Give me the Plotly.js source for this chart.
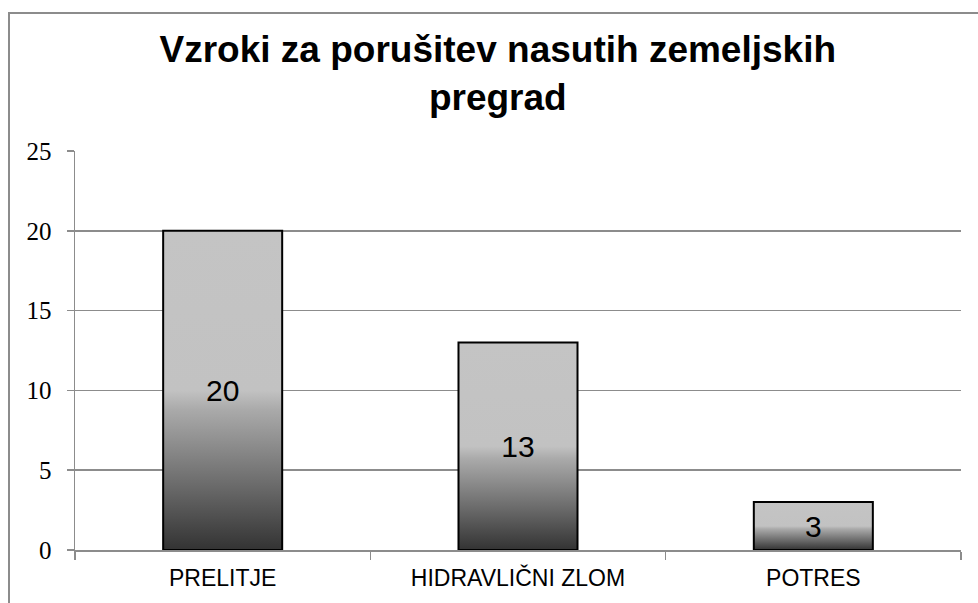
<!DOCTYPE html>
<html>
<head>
<meta charset="utf-8">
<script src="https://cdn.plot.ly/plotly-3.0.1.min.js"></script>
<style>
  html, body { margin:0; padding:0; background:#fff; overflow:hidden; }
  #frame { position:absolute; left:8px; top:12px; width:1200px; height:800px;
           border-left:2px solid #8c8c8c; border-top:2px solid #8c8c8c; pointer-events:none; z-index:5; }
  #chart { width:978px; height:603px; }
</style>
</head>
<body>
<div id="frame"></div>
<div id="chart"></div>
<script>
const categories = ['PRELITJE', 'HIDRAVLIČNI ZLOM', 'POTRES'];
const values = [20, 13, 3];
const yTicks = [0, 5, 10, 15, 20, 25];
const chartTitle = 'Vzroki za porušitev nasutih zemeljskih<br>pregrad';

const trace = {
  type: 'bar',
  x: categories,
  y: values,
  text: values.map(String),
  textposition: 'inside',
  insidetextanchor: 'middle',
  constraintext: 'none',
  textfont: { family: 'Liberation Sans, Arial, sans-serif', size: 30, color: '#000' },
  marker: { color: '#c4c4c4', line: { color: '#000', width: 2 } },
  hoverinfo: 'none'
};

const layout = {
  width: 978, height: 603,
  margin: { l: 75, r: 17, t: 151, b: 53 },
  paper_bgcolor: '#fff', plot_bgcolor: '#fff',
  bargap: 0.597,
  showlegend: false,
  title: {
    text: chartTitle,
    font: { family: 'Liberation Sans, Arial, sans-serif', size: 37, color: '#000', weight: 'bold' },
    xref: 'container', x: 0.509, xanchor: 'center',
    yref: 'container', y: 0.8966, yanchor: 'top'
  },
  xaxis: {
    type: 'category',
    showline: true, linecolor: '#8c8c8c', linewidth: 1.5,
    ticks: 'outside', tickson: 'boundaries', ticklen: 8, tickcolor: '#8c8c8c', tickwidth: 1.5,
    ticklabelstandoff: 7,
    tickfont: { family: 'Liberation Sans, Arial, sans-serif', size: 23, color: '#000' },
    showgrid: false, zeroline: false
  },
  yaxis: {
    range: [0, 25],
    tickvals: yTicks,
    ticktext: yTicks.map(String),
    showline: true, linecolor: '#8c8c8c', linewidth: 1.5,
    ticks: 'outside', ticklen: 7, tickcolor: '#8c8c8c', tickwidth: 1.5,
    ticklabelstandoff: 10,
    tickfont: { family: 'Liberation Serif, Times New Roman, serif', size: 25, color: '#000' },
    showgrid: true, gridcolor: '#8c8c8c', gridwidth: 1.5,
    zeroline: false
  }
};

function applyGradient(gd) {
  const svg = gd.querySelector('svg.main-svg');
  if (!svg) return;
  const ns = 'http://www.w3.org/2000/svg';
  if (!document.getElementById('barGrad')) {
    let defs = svg.querySelector('defs');
    if (!defs) { defs = document.createElementNS(ns, 'defs'); svg.insertBefore(defs, svg.firstChild); }
    const g = document.createElementNS(ns, 'linearGradient');
    g.setAttribute('id', 'barGrad');
    g.setAttribute('x1', '0'); g.setAttribute('y1', '0');
    g.setAttribute('x2', '0'); g.setAttribute('y2', '1');
    [['0', '#c4c4c4'], ['0.5', '#c2c2c2'], ['0.56', '#aaaaaa'], ['0.8', '#6a6a6a'], ['1', '#333333']].forEach(([o, c]) => {
      const s = document.createElementNS(ns, 'stop');
      s.setAttribute('offset', o); s.setAttribute('stop-color', c);
      g.appendChild(s);
    });
    defs.appendChild(g);
  }
  gd.querySelectorAll('.bars .point path').forEach(p => { p.style.fill = 'url(#barGrad)'; p.style.fillOpacity = 1; });
}

const gd = document.getElementById('chart');
Plotly.newPlot(gd, [trace], layout, { displayModeBar: false, staticPlot: true }).then(() => {
  applyGradient(gd);
  gd.on('plotly_afterplot', () => applyGradient(gd));
});
</script>
</body>
</html>
